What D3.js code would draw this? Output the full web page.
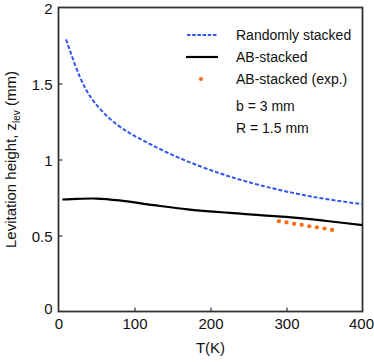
<!DOCTYPE html>
<html>
<head>
<meta charset="utf-8">
<script src="https://cdn.jsdelivr.net/npm/d3@7"></script>
<style>
  body { margin: 0; background: #fff; }
  text { font-family: "Liberation Sans", Arial, sans-serif; fill: #111; }
</style>
</head>
<body>
<svg id="chart" width="374" height="362"></svg>
<script>
// values
const randomT = [10, 23, 34, 45, 67, 89, 100, 142, 185, 225, 269, 313, 350, 394, 400];
const randomZ = [1.79, 1.60, 1.475, 1.385, 1.263, 1.186, 1.155, 1.044, 0.956, 0.886, 0.824, 0.774, 0.74, 0.71, 0.705];

const abT = [5, 25, 50, 80, 125, 170, 230, 300, 350, 400];
const abZ = [0.737, 0.741, 0.743, 0.731, 0.70, 0.672, 0.647, 0.622, 0.597, 0.568];

const expT = [290, 300, 310, 320, 330, 340, 350, 360];
const expZ = [0.594, 0.586, 0.577, 0.570, 0.561, 0.554, 0.546, 0.537];

const xTicks = [0, 100, 200, 300, 400];
const yTicks = [0, 0.5, 1, 1.5, 2];

const margin = {left: 58.5, right: 11.5, top: 7.5, bottom: 50.5};
const W = 374, H = 362;

const svg = d3.select('#chart');

const xScale = d3.scaleLinear().domain([0, 400]).range([margin.left, W - margin.right]);
const yScale = d3.scaleLinear().domain([0, 2]).range([H - margin.bottom, margin.top]);

// frame
svg.append('rect')
    .attr('x', xScale(0)).attr('y', yScale(2))
    .attr('width', xScale(400) - xScale(0))
    .attr('height', yScale(0) - yScale(2))
    .attr('fill', 'none').attr('stroke', '#333').attr('stroke-width', 1.8);

// axes with inward ticks
const xAxis = svg.append('g')
    .attr('transform', `translate(0,${yScale(0)})`)
    .call(d3.axisBottom(xScale).tickValues(xTicks).tickSize(-4).tickPadding(7).tickFormat(d3.format('d')));
const yAxis = svg.append('g')
    .attr('transform', `translate(${xScale(0)},0)`)
    .call(d3.axisLeft(yScale).tickValues(yTicks).tickSize(-4).tickPadding(6).tickFormat(d => String(d)));

[xAxis, yAxis].forEach(g => {
    g.select('.domain').remove();
    g.selectAll('line').attr('stroke', '#333').attr('stroke-width', 1.2);
    g.selectAll('text').style('font-size', '15px').attr('fill', '#111')
        .style('font-family', '"Liberation Sans", Arial, sans-serif');
});
xAxis.selectAll('.tick line').filter(d => d === 0 || d === 400).remove();
yAxis.selectAll('.tick line').filter(d => d === 0 || d === 2).remove();
yAxis.selectAll('text').attr('dy', '0.38em');
// bottom-left "0" sits a bit lower, "400" hugs the right edge
yAxis.selectAll('.tick').filter(d => d === 0).select('text').attr('dy', '0.1em');
xAxis.selectAll('.tick').filter(d => d === 400).select('text').attr('dx', -1.5);

// axis titles
svg.append('text')
    .attr('x', (xScale(0) + xScale(400)) / 2).attr('y', 353)
    .attr('text-anchor', 'middle').style('font-size', '15px')
    .text('T(K)');

const ylab = svg.append('text')
    .attr('transform', `translate(16,${(yScale(0) + yScale(2)) / 2}) rotate(-90)`)
    .attr('text-anchor', 'middle').style('font-size', '15px');
ylab.append('tspan').text('Levitation height, z');
ylab.append('tspan').attr('dy', 4).style('font-size', '10px').text('lev');
ylab.append('tspan').attr('dy', -4).text(' (mm)');

// curves
const smooth = d3.line()
    .x(d => xScale(d[0])).y(d => yScale(d[1]))
    .curve(d3.curveBasis);
const line = d3.line()
    .x(d => xScale(d[0])).y(d => yScale(d[1]))
    .curve(d3.curveCatmullRom.alpha(0.5));

svg.append('path')
    .datum(randomT.map((t, i) => [t, randomZ[i]]))
    .attr('d', smooth)
    .attr('fill', 'none').attr('stroke', '#3355f0')
    .attr('stroke-width', 2).attr('stroke-dasharray', '4,2');

svg.append('path')
    .datum(abT.map((t, i) => [t, abZ[i]]))
    .attr('d', line)
    .attr('fill', 'none').attr('stroke', '#000')
    .attr('stroke-width', 2.2);

svg.selectAll('circle.exp')
    .data(expT.map((t, i) => [t, expZ[i]]))
    .enter().append('circle')
    .attr('class', 'exp')
    .attr('cx', d => xScale(d[0])).attr('cy', d => yScale(d[1]))
    .attr('r', 2.1).attr('fill', '#ff6a10');

// legend
const legend = svg.append('g').style('font-size', '14px');
const legItems = [
    {label: 'Randomly stacked', y: 35, type: 'dash'},
    {label: 'AB-stacked', y: 57, type: 'solid'},
    {label: 'AB-stacked (exp.)', y: 79, type: 'dot'}
];
legItems.forEach(it => {
    if (it.type === 'dash') {
        legend.append('line').attr('x1', 187).attr('x2', 218).attr('y1', it.y).attr('y2', it.y)
            .attr('stroke', '#3355f0').attr('stroke-width', 1.8).attr('stroke-dasharray', '3.5,1.7');
    } else if (it.type === 'solid') {
        legend.append('line').attr('x1', 186).attr('x2', 218).attr('y1', it.y).attr('y2', it.y)
            .attr('stroke', '#000').attr('stroke-width', 2.2);
    } else {
        legend.append('circle').attr('cx', 201).attr('cy', it.y).attr('r', 2.1).attr('fill', '#ff6a10');
    }
    legend.append('text').attr('x', 236).attr('y', it.y + 5).text(it.label);
});
legend.append('text').attr('x', 236).attr('y', 111).text('b = 3 mm');
legend.append('text').attr('x', 236).attr('y', 133).text('R = 1.5 mm');
</script>
</body>
</html>
